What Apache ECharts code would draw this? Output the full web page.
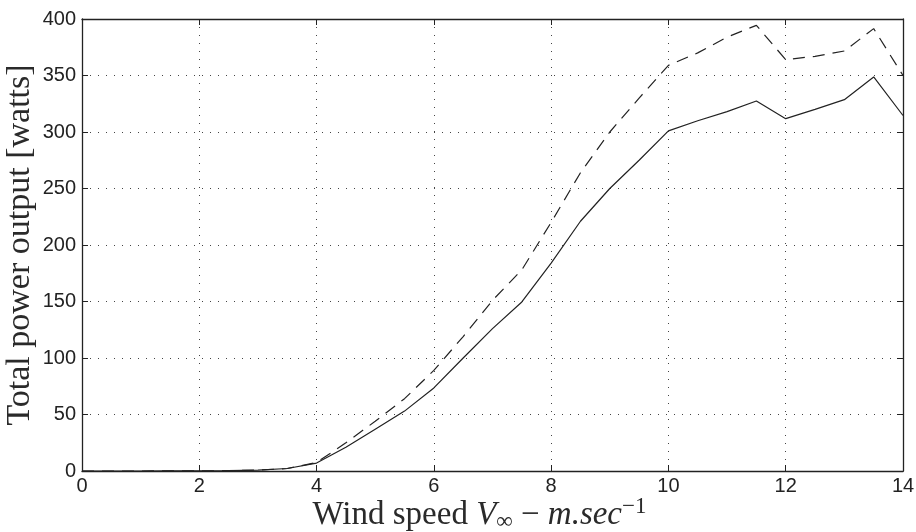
<!DOCTYPE html>
<html>
<head>
<meta charset="utf-8">
<script src="https://cdn.jsdelivr.net/npm/echarts@6/dist/echarts.min.js"></script>
<style>
html,body{margin:0;padding:0;background:#fff;}
#chart{width:916px;height:532px;}
</style>
</head>
<body>
<div id="chart"></div>
<script>
// Data
const windSpeed = [0,0.5,1,1.5,2,2.5,3,3.5,4,4.5,5,5.5,6,6.5,7,7.5,8,8.5,9,9.5,10,10.5,11,11.5,12,12.5,13,13.5,14];
const solidPower = [0,0,0,0.05,0.15,0.3,0.8,2.2,7,21,37,53,73.5,100,126,149.6,184,221,250,275,301,310,318,327.4,311.8,320,328.6,348.7,314.6];
const dashedPower = [0,0,0,0.05,0.15,0.3,0.8,2.2,7.5,25,44,64,89,119,151,178,220,264,300,330,359,370,384,394.4,364,367,371.7,391.5,350];
const xTicks = {min:0, max:14, interval:2};
const yTicks = {min:0, max:400, interval:50};

const pairs = (ys) => windSpeed.map((x,i)=>[x, ys[i]]);

const chart = echarts.init(document.getElementById('chart'), null, {renderer:'canvas'});
const lineCol = '#222';
const txtCol = '#2a2a2a';
const tickFont = {fontFamily:'Liberation Sans', fontSize:20, color:'#222'};
const gridDots = {show:true, lineStyle:{color:'#444', width:1, type:[1,7]}};
const serif = 'Liberation Serif';
const tfx = 33;
const tfy = 34;

chart.setOption({
  animation:false,
  backgroundColor:'#fff',
  grid:{left:82, top:19, right:13, bottom:61, containLabel:false, outerBoundsMode:'none'},
  xAxis:[{
    type:'value', min:xTicks.min, max:xTicks.max, interval:xTicks.interval,
    axisLine:{show:true, onZero:false, lineStyle:{color:lineCol, width:1.3}},
    axisTick:{show:true, inside:true, length:6, lineStyle:{color:lineCol}},
    axisLabel:Object.assign({margin:5}, tickFont),
    splitLine:gridDots,
    name:'{a|Wind speed }{i|V}{s|∞}{a| − }{i|m.sec}{p|−1}',
    nameLocation:'middle', nameGap:24, nameMoveOverlap:false,
    nameTextStyle:{
      padding:[0,26,0,0],
      rich:{
        a:{fontFamily:serif, fontSize:tfx, color:txtCol},
        i:{fontFamily:serif, fontSize:tfx, fontStyle:'italic', color:txtCol},
        s:{fontFamily:serif, fontSize:23, color:txtCol, padding:[13,0,0,0]},
        p:{fontFamily:serif, fontSize:23, color:txtCol, padding:[0,0,17,0]}
      }
    }
  },{
    type:'value', position:'top', min:xTicks.min, max:xTicks.max, interval:xTicks.interval,
    axisLine:{show:true, onZero:false, lineStyle:{color:lineCol, width:1.3}},
    axisTick:{show:true, inside:true, length:6, lineStyle:{color:lineCol}},
    axisLabel:{show:false}, splitLine:{show:false}
  }],
  yAxis:[{
    type:'value', min:yTicks.min, max:yTicks.max, interval:yTicks.interval,
    axisLine:{show:true, onZero:false, lineStyle:{color:lineCol, width:1.3}},
    axisTick:{show:true, inside:true, length:6, lineStyle:{color:lineCol}},
    axisLabel:Object.assign({margin:6}, tickFont),
    splitLine:gridDots,
    name:'Total power output [watts]',
    nameLocation:'middle', nameGap:45, nameMoveOverlap:false,
    nameTextStyle:{fontFamily:serif, fontSize:tfy, color:txtCol}
  },{
    type:'value', position:'right', min:yTicks.min, max:yTicks.max, interval:yTicks.interval,
    axisLine:{show:true, onZero:false, lineStyle:{color:lineCol, width:1.3}},
    axisTick:{show:true, inside:true, length:6, lineStyle:{color:lineCol}},
    axisLabel:{show:false}, splitLine:{show:false}
  }],
  series:[{
    name:'solid', type:'line', data:pairs(solidPower), xAxisIndex:0, yAxisIndex:0,
    showSymbol:false, lineStyle:{color:lineCol, width:1.2, type:'solid'}
  },{
    name:'dashed', type:'line', data:pairs(dashedPower), xAxisIndex:0, yAxisIndex:0,
    showSymbol:false, lineStyle:{color:lineCol, width:1.2, type:[12,8]}
  }]
});
</script>
</body>
</html>
